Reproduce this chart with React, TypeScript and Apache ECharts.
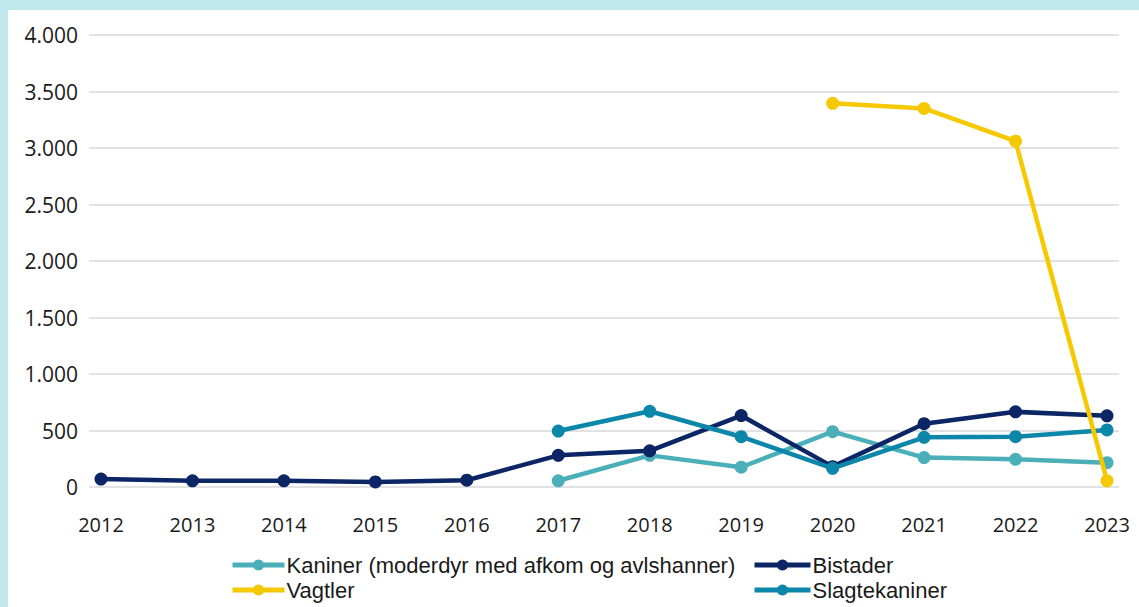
import React, { useEffect, useRef } from "react";
import * as echarts from "echarts";

const years = ["2012", "2013", "2014", "2015", "2016", "2017", "2018", "2019", "2020", "2021", "2022", "2023"];
const kaniner = [null, null, null, null, null, 55, 280, 175, 490, 260, 245, 215];
const bistader = [70, 55, 55, 45, 60, 280, 320, 632, 180, 560, 665, 630];
const vagtler = [null, null, null, null, null, null, null, null, 3395, 3350, 3060, 55];
const slagtekaniner = [null, null, null, null, null, 495, 670, 445, 165, 440, 445, 505];

const seriesNames = [
  "Kaniner (moderdyr med afkom og avlshanner)",
  "Bistader",
  "Vagtler",
  "Slagtekaniner",
];
const colors = {
  kaniner: "#4aafb8",
  bistader: "#0b2565",
  vagtler: "#f6c800",
  slagtekaniner: "#0c87aa",
};

const fmt = (v: number) => String(v).replace(/\B(?=(\d{3})+(?!\d))/g, ".");

export default function App() {
  const ref = useRef<HTMLDivElement>(null);
  useEffect(() => {
    if (!ref.current) return;
    const chart = echarts.init(ref.current, undefined, { renderer: "svg" });
    const font = "'Open Sans', 'Noto Sans', sans-serif";
    const legendFont = "'Liberation Sans', Arial, sans-serif";
    const mk = (name: string, data: (number | null)[], color: string, z: number) => ({
      name,
      type: "line",
      xAxisIndex: 1,
      yAxisIndex: 1,
      data,
      color,
      z,
      symbol: "circle",
      symbolSize: 13,
      lineStyle: { width: 4.5, color },
      itemStyle: { color },
    });
    const legendCommon = {
      orient: "horizontal",
      top: 543,
      itemWidth: 52,
      itemHeight: 14,
      itemGap: 1,
      padding: 0,
      lineStyle: { width: 5 },
      textStyle: { fontSize: 22, lineHeight: 24, color: "#1a1a1a", fontFamily: legendFont, padding: [0, 0, 0, -3] },
    };
    chart.setOption({
      animation: false,
      backgroundColor: "#ffffff",
      grid: [
        { left: 81, right: 20, top: 25, bottom: 120 },
        { left: 93, right: 32, top: 25, bottom: 120 },
      ],
      xAxis: [
        { gridIndex: 0, type: "value", show: false, min: 0, max: 1 },
        {
          gridIndex: 1,
          type: "category",
          data: years,
          boundaryGap: false,
          axisLine: { show: false },
          axisTick: { show: false },
          axisLabel: { fontSize: 20, color: "#1a1a1a", fontFamily: font, margin: 27 },
          splitLine: { show: false },
        },
      ],
      yAxis: [
        {
          gridIndex: 0,
          type: "value",
          min: 0,
          max: 4000,
          interval: 500,
          axisLine: { show: false },
          axisTick: { show: false },
          axisLabel: { fontSize: 21, color: "#1a1a1a", fontFamily: font, margin: 11, formatter: (v: number) => fmt(v) },
          splitLine: { lineStyle: { color: "#d9d9d9", width: 1.5 } },
        },
        { gridIndex: 1, type: "value", min: 0, max: 4000, interval: 500, show: false },
      ],
      legend: [
        { ...legendCommon, data: [seriesNames[0], seriesNames[2]], left: 222, width: 520 },
        { ...legendCommon, data: [seriesNames[1], seriesNames[3]], left: 744, itemWidth: 56, width: 230 },
      ],
      series: [
        mk(seriesNames[0], kaniner, colors.kaniner, 2),
        mk(seriesNames[1], bistader, colors.bistader, 3),
        mk(seriesNames[3], slagtekaniner, colors.slagtekaniner, 4),
        mk(seriesNames[2], vagtler, colors.vagtler, 5),
      ],
    });
    return () => chart.dispose();
  }, []);
  return (
    <div style={{ position: "absolute", left: 0, top: 0, width: 1139, height: 607, background: "#bfe7ec" }}>
      <div ref={ref} style={{ position: "absolute", left: 8, top: 10, width: 1131, height: 597, background: "#fff" }} />
    </div>
  );
}
